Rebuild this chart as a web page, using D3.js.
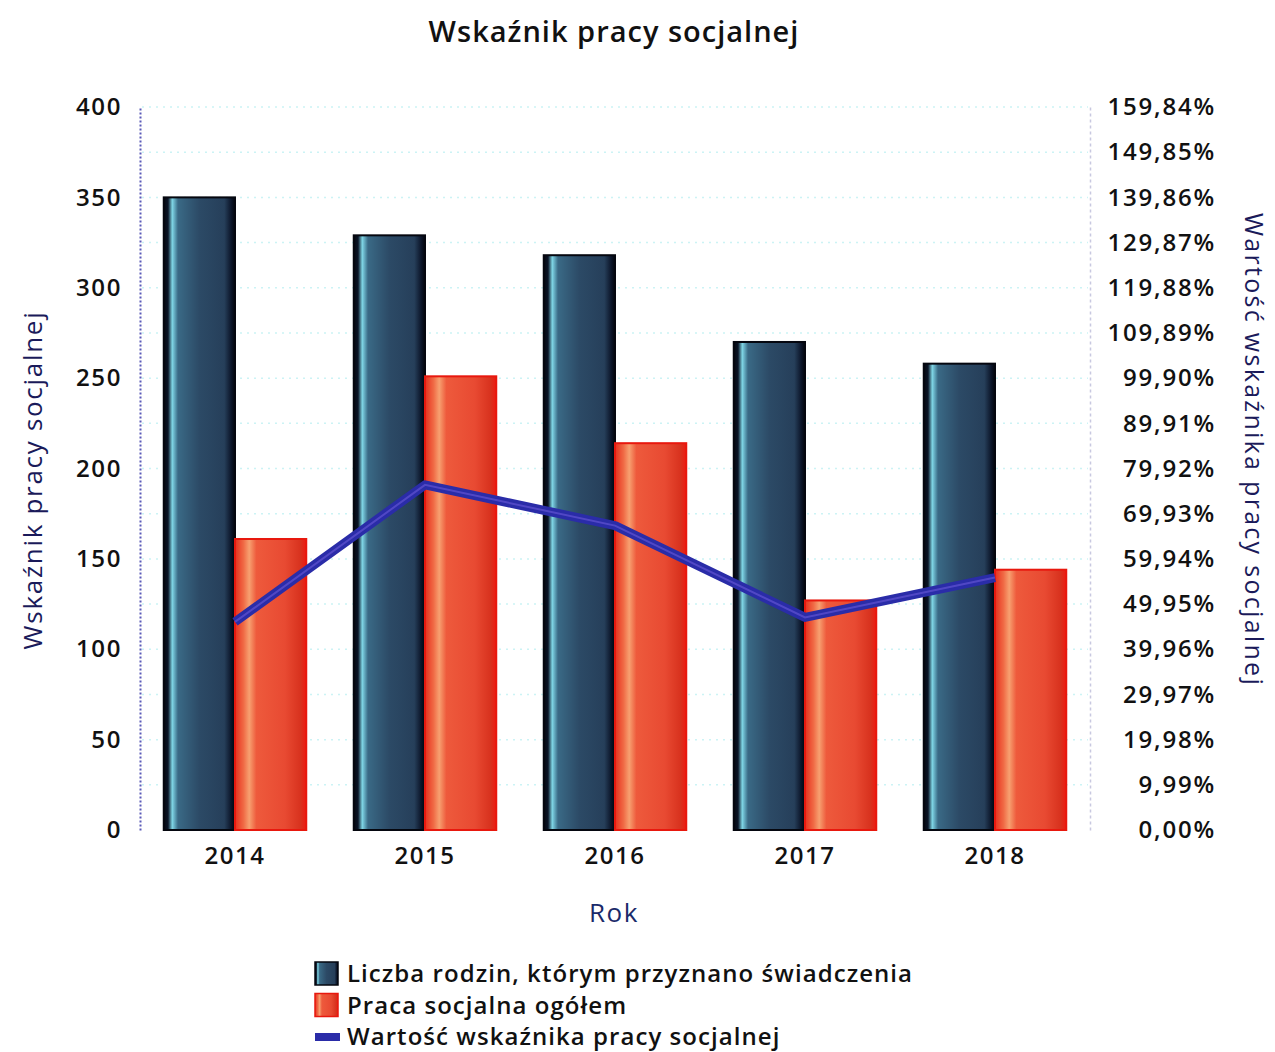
<!DOCTYPE html>
<html><head><meta charset="utf-8">
<script src="https://cdn.jsdelivr.net/npm/d3@7"></script>
<style>
body{margin:0;background:#fff;}
svg text{font-family:"Open Sans","DejaVu Sans",sans-serif;}
</style></head>
<body><svg id="c" width="1275" height="1052"></svg>
<script>
const years = ["2014","2015","2016","2017","2018"];
const families = [350, 329, 318, 270, 258];
const socialWork = [161, 251, 214, 127, 144];
const indicator = [46.0, 76.3, 67.3, 47.0, 55.8];
const leftTicks = [0,50,100,150,200,250,300,350,400];
const rightTicks = [0,9.99,19.98,29.97,39.96,49.95,59.94,69.93,79.92,89.91,99.90,109.89,119.88,129.87,139.86,149.85,159.84];
const seriesNames = ["Liczba rodzin, którym przyznano świadczenia","Praca socjalna ogółem","Wartość wskaźnika pracy socjalnej"];

const svg = d3.select("#c");
const L=140, R=1090, T=107, B=830;
const x = d3.scaleBand().domain(years).range([L,R]).paddingInner(0.25).paddingOuter(0.125);
const yL = d3.scaleLinear().domain([0,400]).range([B,T]);
const yR = d3.scaleLinear().domain([0,159.84]).range([B,T]);

const defs = svg.append("defs");
const gb = defs.append("linearGradient").attr("id","gBlue");
[[0,"#05070f"],[0.06,"#0a1426"],[0.12,"#7fd6e6"],[0.2,"#3a6a86"],[0.5,"#2c4a66"],[0.85,"#263f5a"],[0.95,"#0b1428"],[1,"#03050c"]]
  .forEach(s=>gb.append("stop").attr("offset",s[0]).attr("stop-color",s[1]));
const gr = defs.append("linearGradient").attr("id","gRed");
[[0,"#e8301e"],[0.12,"#f06a45"],[0.2,"#f7a070"],[0.3,"#ee5a3c"],[0.7,"#e84a32"],[0.92,"#d8321e"],[1,"#ee1a10"]]
  .forEach(s=>gr.append("stop").attr("offset",s[0]).attr("stop-color",s[1]));

// faint dotted gridlines at right ticks
svg.append("g").selectAll("line").data(rightTicks.slice(1)).join("line")
  .attr("x1",L+2).attr("x2",R-2).attr("y1",d=>yR(d)).attr("y2",d=>yR(d))
  .attr("stroke","#8fe6ea").attr("stroke-width",1.5).attr("stroke-dasharray","2,5").attr("opacity",0.45);

// Axes
const axL = svg.append("g").attr("transform",`translate(${L},0)`)
  .call(d3.axisLeft(yL).tickValues(leftTicks).tickSize(0).tickPadding(18));
axL.select(".domain").attr("stroke","#5a5ab8").attr("stroke-width",2).attr("stroke-dasharray","2,2");
axL.selectAll("text").attr("font-size",24).attr("font-weight",600).attr("fill","#111").attr("letter-spacing",1.6);

const axR = svg.append("g").attr("transform",`translate(${R},0)`)
  .call(d3.axisRight(yR).tickValues(rightTicks).tickSize(0).tickPadding(0)
    .tickFormat(d=>d3.format(".2f")(d).replace(".",",")+"%"));
axR.select(".domain").attr("stroke","#c8c8e0").attr("stroke-width",1.5).attr("stroke-dasharray","3,3");
axR.selectAll("text").attr("font-size",24).attr("font-weight",600).attr("fill","#111")
  .attr("letter-spacing",1.8).attr("text-anchor","end").attr("x",126);

const axX = svg.append("g").attr("transform",`translate(0,${B})`)
  .call(d3.axisBottom(x).tickSize(0).tickPadding(17));
axX.select(".domain").remove();
axX.selectAll("text").attr("font-size",24).attr("font-weight",600).attr("fill","#111").attr("letter-spacing",1.5);

// bars
const bw = x.bandwidth()/2;
svg.append("g").selectAll("rect").data(years).join("rect")
  .attr("x",d=>x(d)).attr("width",bw)
  .attr("y",(d,i)=>yL(families[i])).attr("height",(d,i)=>B-yL(families[i]))
  .attr("fill","url(#gBlue)").attr("stroke","#05070f").attr("stroke-width",2);
svg.append("g").selectAll("rect").data(years).join("rect")
  .attr("x",d=>x(d)+bw).attr("width",bw)
  .attr("y",(d,i)=>yL(socialWork[i])).attr("height",(d,i)=>B-yL(socialWork[i]))
  .attr("fill","url(#gRed)").attr("stroke","#e8180e").attr("stroke-width",2);

// line
const line = d3.line().x((d,i)=>x(years[i])+bw).y(d=>yR(d));
svg.append("path").datum(indicator).attr("d",line).attr("fill","none")
  .attr("stroke","#2a2ca8").attr("stroke-width",9).attr("stroke-linejoin","round");
svg.append("path").datum(indicator).attr("d",line).attr("fill","none")
  .attr("stroke","#6a5ad8").attr("stroke-width",2).attr("opacity",0.6);

// titles
svg.append("text").attr("x",614).attr("y",42).attr("text-anchor","middle")
  .attr("font-size",29).attr("font-weight",600).attr("letter-spacing",1).attr("fill","#111").text("Wskaźnik pracy socjalnej");
svg.append("text").attr("transform","translate(42,480) rotate(-90)").attr("text-anchor","middle")
  .attr("font-size",26).attr("letter-spacing",1.7).attr("fill","#1a1a5a").text("Wskaźnik pracy socjalnej");
svg.append("text").attr("transform","translate(1245,450) rotate(90)").attr("text-anchor","middle")
  .attr("font-size",25).attr("letter-spacing",2.3).attr("fill","#1a1a5a").text("Wartość wskaźnika pracy socjalnej");
svg.append("text").attr("x",614).attr("y",922).attr("text-anchor","middle")
  .attr("font-size",26).attr("letter-spacing",1.5).attr("fill","#1a2a6a").text("Rok");

// legend
const lg = svg.append("g").attr("transform","translate(315,962)");
const rows = lg.selectAll("g").data(seriesNames).join("g").attr("transform",(d,i)=>`translate(0,${i*31.5})`);
rows.filter((d,i)=>i<2).append("rect").attr("width",23).attr("height",23)
  .attr("fill",(d,i)=>i===0?"url(#gBlue)":"url(#gRed)").attr("stroke",(d,i)=>i===0?"#05070f":"#e8180e").attr("stroke-width",1.5);
rows.filter((d,i)=>i===2).append("rect").attr("y",8).attr("width",25).attr("height",8).attr("fill","#2a2ca8");
rows.append("text").attr("x",32).attr("y",20).attr("font-size",24).attr("font-weight",600).attr("letter-spacing",1.05).attr("fill","#111").text(d=>d);
</script></body></html>
